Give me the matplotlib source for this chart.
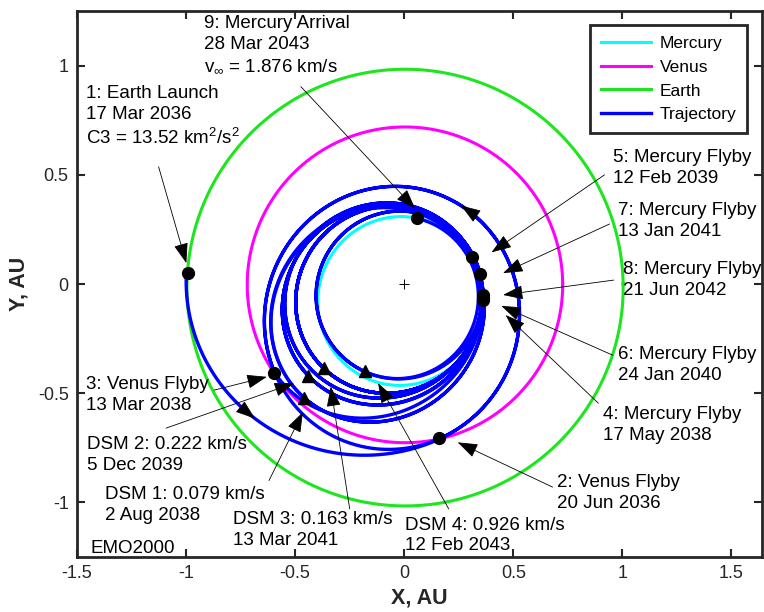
import numpy as np
import matplotlib.pyplot as plt

plt.rcParams['font.family'] = ['Liberation Sans', 'DejaVu Sans']
plt.rcParams['mathtext.fontset'] = 'custom'
plt.rcParams['mathtext.rm'] = 'Liberation Sans'
plt.rcParams['mathtext.it'] = 'Liberation Sans:italic'
plt.rcParams['mathtext.bf'] = 'Liberation Sans:bold'
plt.rcParams['axes.unicode_minus'] = False

# planet orbits: semi-major axis (AU), eccentricity, longitude of perihelion (deg)
planets = ['Mercury', 'Venus', 'Earth']
planet_a = [0.387, 0.723, 1.000]
planet_e = [0.2056, 0.0068, 0.0167]
planet_w = [77.5, 131.5, 102.9]
planet_colors = ['cyan', 'magenta', '#1ee61e']

# trajectory legs: perihelion / aphelion (AU), perihelion direction,
# start and end polar angle (deg, more than 360 = extra revolutions)
leg_rp = [0.63, 0.44, 0.3365, 0.318, 0.324, 0.3285, 0.3316, 0.335, 0.334, 0.335, 0.330, 0.305]
leg_ra = [1.00, 0.77, 0.72, 0.694, 0.694, 0.608, 0.608, 0.58, 0.534, 0.534, 0.44, 0.44]
leg_w = [-3, 70, 35, 48.5, 48.5, 43.7, 43.7, 38, 46, 46, 66, 66]
leg_t0 = [177, 282.6, 214.4, 348.3, 228.5, 21.8, 223.7, 349.8, 7.6, 226, 352.1, 245.8]
leg_t1 = [282.6, 935, 348.3, 588.5, 741.8, 943.7, 349.8, 1087.6, 226, 1792.1, 965.8, 438.7]

# direction markers on the trajectory (leg index, polar angle)
dir_leg = [0, 1]
dir_theta = [222, 54]

# events: launch, flybys, arrival
event_x = [-0.991, 0.158, -0.597, 0.362, 0.31, 0.36, 0.345, 0.36, 0.057]
event_y = [0.05, -0.706, -0.408, -0.075, 0.124, -0.065, 0.046, -0.05, 0.303]

# deep space manoeuvres
dsm_x = [-0.46, -0.44, -0.37, -0.18]
dsm_y = [-0.52, -0.42, -0.385, -0.40]

labels = [
    '1: Earth Launch\n17 Mar 2036\nC3 = 13.52 km$^2$/s$^2$',
    '9: Mercury Arrival\n28 Mar 2043\nv$_\\infty$ = 1.876 km/s',
    '5: Mercury Flyby\n12 Feb 2039',
    '7: Mercury Flyby\n13 Jan 2041',
    '8: Mercury Flyby\n21 Jun 2042',
    '6: Mercury Flyby\n24 Jan 2040',
    '4: Mercury Flyby\n17 May 2038',
    '2: Venus Flyby\n20 Jun 2036',
    '3: Venus Flyby\n13 Mar 2038',
    'DSM 2: 0.222 km/s\n5 Dec 2039',
    'DSM 1: 0.079 km/s\n2 Aug 2038',
    'DSM 3: 0.163 km/s\n13 Mar 2041',
    'DSM 4: 0.926 km/s\n12 Feb 2043',
]
label_pos = [(-1.457, 0.912), (-0.92, 1.232), (0.959, 0.618), (0.982, 0.375),
             (1.005, 0.105), (0.982, -0.285), (0.913, -0.56), (0.70, -0.872),
             (-1.46, -0.423), (-1.455, -0.698), (-1.372, -0.927), (-0.787, -1.04),
             (0.005, -1.065)]
arrow_tail = [(-1.126, 0.537), (-0.474, 0.904), (0.918, 0.50), (0.941, 0.275),
              (0.96, 0.018), (0.956, -0.326), (0.89, -0.546), (0.68, -0.93),
              (-0.872, -0.486), (-1.092, -0.66), (-0.62, -0.90), (-0.25, -1.03),
              (0.204, -1.03)]
arrow_tip = [(-0.999, 0.096), (0.05, 0.345), (0.40, 0.145), (0.453, 0.05),
             (0.453, -0.05), (0.445, -0.10), (0.465, -0.142), (0.245, -0.725),
             (-0.63, -0.425), (-0.505, -0.454), (-0.465, -0.587), (-0.337, -0.47),
             (-0.12, -0.454)]

head = '-|>,head_length=0.9,head_width=0.32'


def conic(rp, ra, w, th_deg):
    th = np.radians(th_deg)
    e = (ra - rp) / (ra + rp)
    p = 2 * ra * rp / (ra + rp)
    r = p / (1 + e * np.cos(th - np.radians(w)))
    return r * np.cos(th), r * np.sin(th)


fig = plt.figure(figsize=(7.64, 6.12), dpi=100)
ax = fig.add_axes([0.1008, 0.0899, 0.8966, 0.892])

#planets
for i in range(len(planets)):
    a, e, w = planet_a[i], planet_e[i], planet_w[i]
    x, y = conic(a * (1 - e), a * (1 + e), w, np.linspace(0, 360, 721))
    ax.plot(x, y, color=planet_colors[i], lw=2.2, label=planets[i])

#trajectory
for i in range(len(leg_rp)):
    th = np.linspace(leg_t0[i], leg_t1[i], int(abs(leg_t1[i] - leg_t0[i]) * 2) + 2)
    x, y = conic(leg_rp[i], leg_ra[i], leg_w[i], th)
    ax.plot(x, y, color='blue', lw=2.4, label='Trajectory' if i == 0 else None)

#direction arrows
for k in range(len(dir_leg)):
    i = dir_leg[k]
    x0, y0 = conic(leg_rp[i], leg_ra[i], leg_w[i], dir_theta[k] - 3)
    x1, y1 = conic(leg_rp[i], leg_ra[i], leg_w[i], dir_theta[k])
    ax.annotate('', xy=(x1, y1), xytext=(x0, y0),
                arrowprops=dict(arrowstyle=head, color='k', lw=0.5,
                                shrinkA=0, shrinkB=0, mutation_scale=14),
                zorder=5)

ax.plot(event_x, event_y, 'o', color='k', ms=8.5, zorder=6)
ax.plot(dsm_x, dsm_y, '^', color='k', ms=8.5, zorder=6)
ax.plot([0], [0], '+', color='k', ms=7, mew=0.7)

#labels
for i in range(len(labels)):
    ax.text(label_pos[i][0], label_pos[i][1], labels[i], fontsize=13.5,
            ha='left', va='top', color='k', linespacing=1.3, zorder=7)
    ax.annotate('', xy=arrow_tip[i], xytext=arrow_tail[i],
                arrowprops=dict(arrowstyle=head, color='k', lw=0.6,
                                shrinkA=0, shrinkB=0, mutation_scale=14),
                zorder=7)

ax.text(-1.436, -1.23, 'EMO2000', fontsize=13.5, ha='left', va='baseline')

ax.set_xlim(-1.5, 1.64)
ax.set_ylim(-1.25, 1.25)
xt = [-1.5, -1, -0.5, 0, 0.5, 1, 1.5]
yt = [-1, -0.5, 0, 0.5, 1]
ax.set_xticks(xt, ['%g' % v for v in xt])
ax.set_yticks(yt, ['%g' % v for v in yt])
ax.tick_params(direction='in', length=6, width=1.5, top=True, right=True,
               labelsize=13, colors='#262626', pad=6)
for s in ax.spines.values():
    s.set_linewidth(2)
    s.set_color('#262626')

ax.set_xlabel('X, AU', fontsize=15.5, fontweight='bold', color='#262626', labelpad=4)
ax.set_ylabel('Y, AU', fontsize=15.5, fontweight='bold', color='#262626', labelpad=6)

leg = ax.legend(loc='upper right', bbox_to_anchor=(0.978, 0.974), borderaxespad=0,
                fontsize=12.5, fancybox=False, framealpha=1, edgecolor='#262626',
                handlelength=2.9, handletextpad=0.5, labelspacing=0.5, borderpad=0.6)
leg.get_frame().set_linewidth(2)

fig.savefig('out.png', dpi=100)
